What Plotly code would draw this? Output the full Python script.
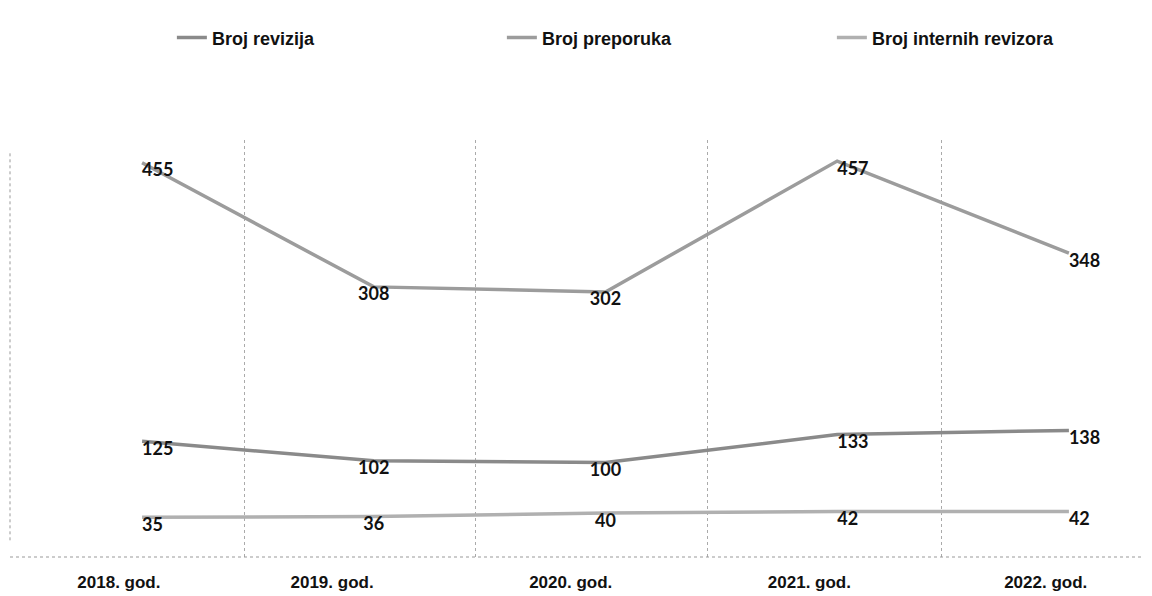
import plotly.graph_objects as go

years = ["2018. god.", "2019. god.", "2020. god.", "2021. god.", "2022. god."]
revizije = [125, 102, 100, 133, 138]
preporuke = [455, 308, 302, 457, 348]
revizori = [35, 36, 40, 42, 42]

xpos = list(range(len(years)))
pos_mid = ["bottom right", "bottom center", "bottom center", "bottom right", "bottom right"]

fig = go.Figure()
series = [
    ("Broj revizija", revizije, "#8a8a8a"),
    ("Broj preporuka", preporuke, "#9c9c9c"),
    ("Broj internih revizora", revizori, "#b0b0b0"),
]
for name, vals, col in series:
    fig.add_trace(go.Scatter(
        x=xpos, y=vals, name=name, mode="lines+text",
        line=dict(color=col, width=3.5),
        text=[str(v) for v in vals], textposition=pos_mid,
        textfont=dict(family="Lato", size=18, color="#111", weight="bold"),
        cliponaxis=False,
    ))

fig.update_layout(
    width=1152, height=596,
    paper_bgcolor="white", plot_bgcolor="white",
    margin=dict(l=2, r=10, t=132, b=47, autoexpand=False),
    showlegend=True,
    legend=dict(orientation="h", x=0.142, y=1.245, xanchor="left", yanchor="middle",
                entrywidth=285, entrywidthmode="pixels",
                font=dict(family="Liberation Sans", size=18, color="#111", weight="bold")),
    xaxis=dict(range=[-0.57, 4.35], tickvals=[-0.1, 0.82, 1.85, 2.88, 3.9], ticktext=years,
               showgrid=False, zeroline=False, showline=False, ticks="",
               tickfont=dict(family="Liberation Sans", size=17, color="#111", weight="bold"),
               ticklabelstandoff=13,
               minor=dict(tickvals=[0.44, 1.44, 2.44, 3.45], showgrid=True,
                          gridcolor="#aaaaaa", griddash="dot", gridwidth=1)),
    yaxis=dict(range=[-12, 482], showgrid=False, zeroline=False, showticklabels=False,
               showline=False),
    shapes=[
        dict(type="line", xref="paper", yref="paper", x0=0, x1=1, y0=0, y1=0,
             line=dict(color="#999999", width=1, dash="dot")),
        dict(type="line", xref="paper", yref="paper", x0=0, x1=0, y0=0.04, y1=0.97,
             line=dict(color="#999999", width=1, dash="dot")),
    ],
)

fig.write_html("out.html")
